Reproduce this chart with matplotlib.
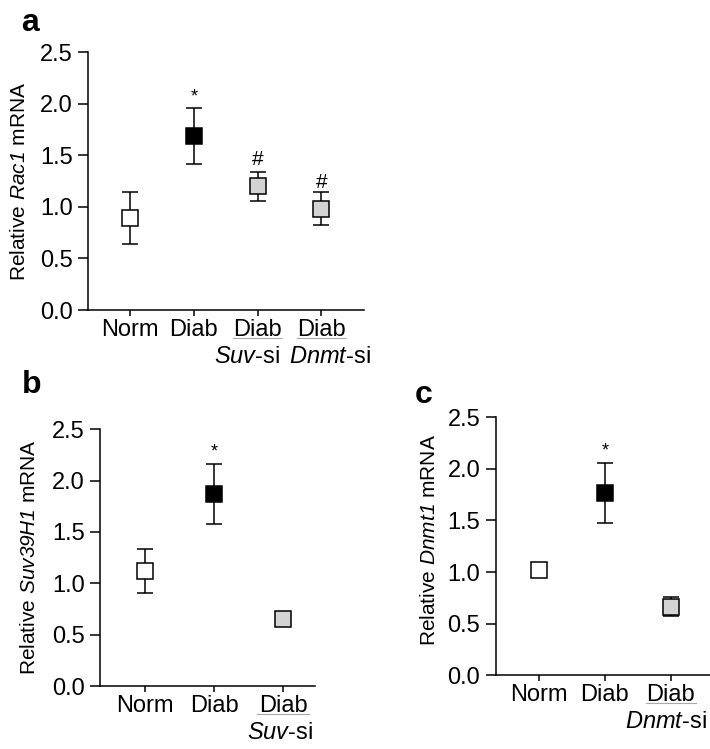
import matplotlib.pyplot as plt
from matplotlib import transforms

plt.rcParams['font.family'] = ['Liberation Sans', 'DejaVu Sans']
plt.rcParams['mathtext.fontset'] = 'custom'
plt.rcParams['mathtext.rm'] = 'Liberation Sans:italic'
plt.rcParams['mathtext.it'] = 'Liberation Sans:italic'

# panel a: Rac1
a_labels = ['Norm', 'Diab', 'Diab', 'Diab']
a_sub = ['', '', '$\\mathit{Suv}$-si', '$\\mathit{Dnmt}$-si']
a_mean = [0.89, 1.69, 1.20, 0.98]
a_err = [0.25, 0.27, 0.14, 0.16]
a_marks = ['', '*', '#', '#']
a_mark_y = [None, 2.06, 1.46, 1.24]

# panel b: Suv39H1
b_labels = ['Norm', 'Diab', 'Diab']
b_sub = ['', '', '$\\mathit{Suv}$-si']
b_mean = [1.12, 1.87, 0.655]
b_err = [0.21, 0.29, 0.0]
b_marks = ['', '*', '']
b_mark_y = [None, 2.28, None]

# panel c: Dnmt1
c_labels = ['Norm', 'Diab', 'Diab']
c_sub = ['', '', '$\\mathit{Dnmt}$-si']
c_mean = [1.02, 1.77, 0.665]
c_err = [0.07, 0.29, 0.09]
c_marks = ['', '*', '']
c_mark_y = [None, 2.17, None]

face_a = ['white', 'black', '#d3d3d3', '#d3d3d3']
face_bc = ['white', 'black', '#d3d3d3']


def draw_panel(ax, labels, sub, sub_dx, mean, err, faces, marks, mark_y,
               ylabel, xlim, ylab_xy):
    for i in range(len(mean)):
        if err[i] > 0:
            ax.errorbar(i, mean[i], yerr=err[i], fmt='none', ecolor='black',
                        elinewidth=1.1, capsize=5.5, capthick=1.1, zorder=2)
        ax.plot(i, mean[i], 's', ms=11, mfc=faces[i], mec='black', mew=1.1, zorder=3)
        if marks[i]:
            fs = 13 if marks[i] == '*' else 15
            ax.text(i, mark_y[i], marks[i], ha='center', va='center', fontsize=fs)
    ax.set_xticks(range(len(labels)))
    ax.set_xticklabels(labels, fontsize=17)
    ax.set_ylim(0, 2.5)
    ax.set_yticks([0, 0.5, 1.0, 1.5, 2.0, 2.5])
    ax.set_yticklabels(['0.0', '0.5', '1.0', '1.5', '2.0', '2.5'], fontsize=17)
    ax.set_xlim(*xlim)
    ax.set_ylabel(ylabel, fontsize=15)
    ax.yaxis.set_label_coords(*ylab_xy)
    for s in ['top', 'right']:
        ax.spines[s].set_visible(False)
    for s in ['left', 'bottom']:
        ax.spines[s].set_linewidth(1.1)
    ax.tick_params(axis='y', width=1.1, length=7.5, pad=3.5)
    ax.tick_params(axis='x', width=1.1, length=4.5, pad=2)

    base = transforms.blended_transform_factory(ax.transData, ax.transAxes)
    for i in range(len(sub)):
        if not sub[i]:
            continue
        # second line under the tick label
        ax.text(i + sub_dx[i], 0, sub[i], fontsize=17, ha='center', va='center',
                transform=transforms.offset_copy(base, fig=ax.figure, y=-47, units='dots'))
        # faint rule under "Diab"
        ax.plot([i - 0.38, i + 0.38], [0, 0], color='#aaaaaa', lw=0.8, clip_on=False,
                transform=transforms.offset_copy(base, fig=ax.figure, y=-28, units='dots'))


fig = plt.figure(figsize=(7.1, 7.49), dpi=100)

ax_a = fig.add_axes([0.124, 0.586, 0.389, 0.3445])
draw_panel(ax_a, a_labels, a_sub, [0, 0, -0.165, 0.13], a_mean, a_err, face_a,
           a_marks, a_mark_y, 'Relative $\\mathit{Rac1}$ mRNA', (-0.66, 3.67),
           (-0.214, 0.5))

ax_b = fig.add_axes([0.1408, 0.0841, 0.3029, 0.3427])
draw_panel(ax_b, b_labels, b_sub, [0, 0, -0.04], b_mean, b_err, face_bc,
           b_marks, b_mark_y, 'Relative $\\mathit{Suv39H1}$ mRNA', (-0.65, 2.46),
           (-0.284, 0.5))

ax_c = fig.add_axes([0.698, 0.0984, 0.302, 0.3445])
draw_panel(ax_c, c_labels, c_sub, [0, 0, -0.07], c_mean, c_err, face_bc,
           c_marks, c_mark_y, 'Relative $\\mathit{Dnmt1}$ mRNA', (-0.66, 2.6),
           (-0.265, 0.524))

fig.text(0.042, 0.969, 'a', fontsize=23, fontweight='bold', ha='center', va='center')
fig.text(0.045, 0.486, 'b', fontsize=23, fontweight='bold', ha='center', va='center')
fig.text(0.597, 0.473, 'c', fontsize=23, fontweight='bold', ha='center', va='center')

fig.savefig('out.png', dpi=100)
